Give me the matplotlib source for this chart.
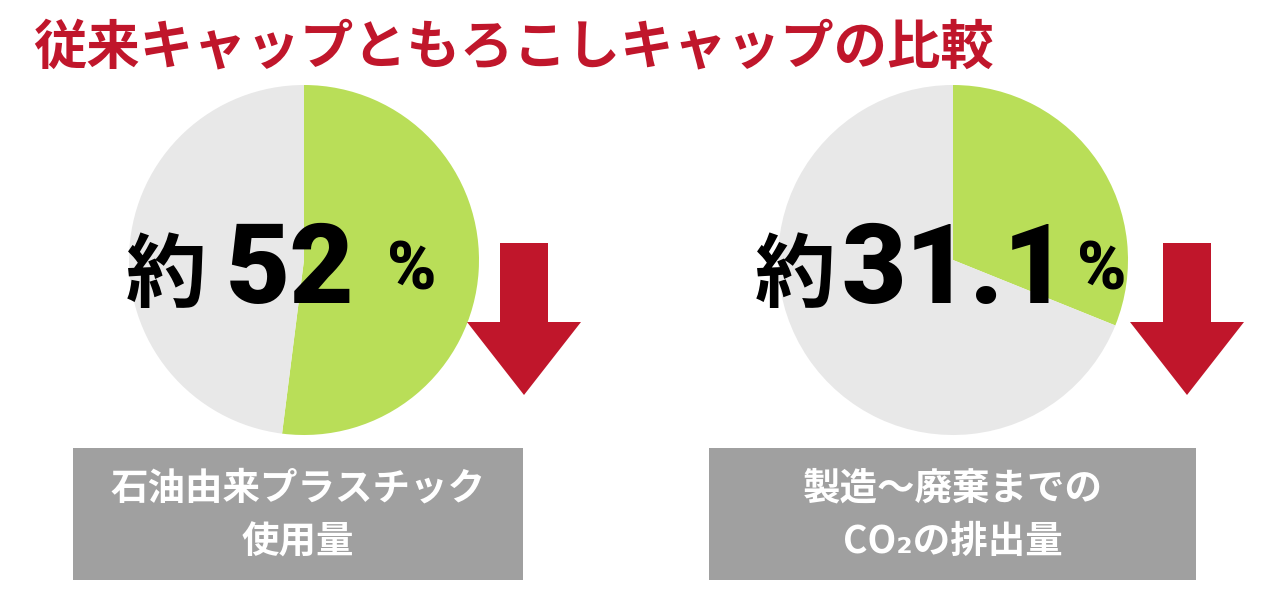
import matplotlib.pyplot as plt
from matplotlib.patches import Rectangle, FancyArrow

plt.rcParams['font.family'] = ['Noto Sans CJK JP', 'DejaVu Sans']

# data
title = "従来キャップともろこしキャップの比較"
shares = [52, 31.1]              # % of conventional cap
share_labels = ["52", "31.1"]
box_labels = [["石油由来プラスチック", "使用量"],
              ["製造〜廃棄までの", "CO₂の排出量"]]

green = "#b9de58"
pie_gray = "#e8e8e8"
red = "#c0162b"
box_gray = "#a0a0a0"

fig = plt.figure(figsize=(12.8, 6), dpi=100)
ax = fig.add_axes([0, 0, 1, 1])

# layout in pixel units (y up)
pie_cx = [304, 953]
pie_cy = 340
pie_r = 175
arrow_x = [524, 1187]
boxes = [(73, 450), (709, 487)]   # left, width
num_dx = [-14, 2]
kanji_dx = [-138, -158]
pct_dx = [108, 149]

for i, share in enumerate(shares):
    ax.pie([share, 100 - share],
           colors=[green, pie_gray],
           startangle=90,
           counterclock=False,
           center=(pie_cx[i], pie_cy),
           radius=pie_r,
           wedgeprops=dict(linewidth=0))

    # big number
    cx = pie_cx[i]
    ax.text(cx + kanji_dx[i], 299, "約", fontsize=58, fontweight="bold",
            ha="center", va="baseline", color="black")
    ax.text(cx + num_dx[i], 297, share_labels[i], fontsize=80, fontweight="heavy",
            family=["Roboto", "DejaVu Sans"], ha="center", va="baseline")
    ax.text(cx + pct_dx[i], 310, "%", fontsize=48, fontweight="heavy",
            family=["Roboto", "DejaVu Sans"], ha="center", va="baseline")

    # down arrow
    ax.add_patch(FancyArrow(arrow_x[i], 357, 0, -152, width=48,
                            head_width=114, head_length=73,
                            length_includes_head=True, color=red, lw=0))

    # label box
    bx, bw = boxes[i]
    ax.add_patch(Rectangle((bx, 20), bw, 132, color=box_gray, lw=0))
    ax.text(bx + bw / 2, 112, box_labels[i][0], fontsize=27, fontweight="bold",
            color="white", ha="center", va="center")
    ax.text(bx + bw / 2, 58, box_labels[i][1], fontsize=27, fontweight="bold",
            color="white", ha="center", va="center")

ax.text(33, 552, title, fontsize=38.4, fontweight="bold", color=red,
        ha="left", va="center")

ax.set_xlim(0, 1280)
ax.set_ylim(0, 600)
ax.set_aspect("auto")
ax.set_axis_off()

plt.savefig("out.png", dpi=100)
